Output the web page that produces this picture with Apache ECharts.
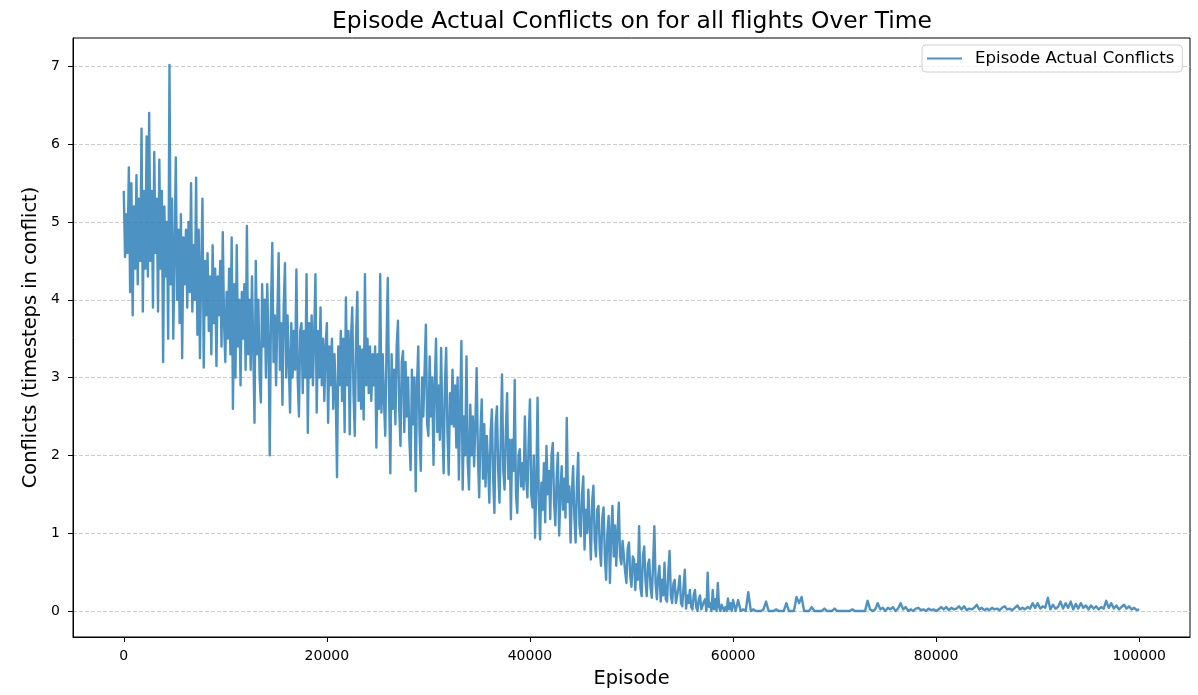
<!DOCTYPE html>
<html>
<head>
<meta charset="utf-8">
<title>Episode Actual Conflicts</title>
<script src="https://cdn.jsdelivr.net/npm/echarts@6/dist/echarts.min.js"></script>
<style>
  html, body { margin: 0; padding: 0; background: #fff; }
  #chart { width: 1198px; height: 695px; }
</style>
</head>
<body>
<div id="chart"></div>
<script>
// Conflicts per episode during training, sampled every EARLY_STEP episodes (0 .. 59875)
const EARLY_STEP = 125;
const conflictsEarly = [
  5.4, 4.55, 5.1, 4.6, 5.7, 4.1, 5.5, 3.8, 5.2, 4.4, 5.6, 4.2, 5.3, 4.5, 6.2, 3.85, 5.4, 4.4, 6.1, 4.3,
  6.4, 4.5, 5.4, 3.9, 5.9, 4.6, 5.3, 3.85, 5.8, 4.4, 5.4, 3.2, 5.2, 4.3, 5.0, 3.5, 7.02, 4.2, 5.3, 3.5,
  4.6, 5.83, 4.0, 4.9, 3.7, 5.1, 3.25, 4.8, 4.2, 4.9, 3.9, 5.0, 4.1, 5.5, 3.85, 4.7, 4.0, 5.57, 3.55, 4.9,
  3.25, 4.4, 5.3, 3.13, 4.5, 3.8, 4.6, 3.6, 4.3, 3.3, 4.7, 3.7, 4.4, 3.15, 4.3, 3.8, 4.5, 3.4, 4.87, 3.7,
  3.2, 4.1, 3.5, 4.4, 3.3, 4.8, 2.6, 4.2, 3.0, 4.7, 3.4, 4.0, 2.9, 4.1, 3.5, 4.2, 3.1, 4.95, 3.3, 4.0,
  3.1, 4.3, 3.4, 2.42, 4.5, 3.3, 4.0, 3.0, 2.68, 4.2, 3.4, 4.0, 3.0, 4.2, 3.5, 2.0, 3.9, 4.73, 3.2, 3.8,
  2.9, 3.8, 4.6, 3.1, 3.7, 2.65, 3.9, 4.47, 3.0, 3.8, 3.2, 2.55, 3.7, 3.0, 3.6, 3.1, 4.39, 3.0, 2.5, 3.6,
  3.7, 2.8, 3.6, 3.0, 4.33, 2.29, 3.7, 3.0, 3.8, 2.9, 3.5, 4.33, 2.55, 3.6, 3.0, 3.9, 2.9, 3.5, 2.7, 3.4,
  3.7, 2.42, 3.4, 2.9, 3.5, 2.6, 3.3, 2.8, 1.72, 3.4, 2.9, 3.6, 2.7, 3.5, 2.3, 4.03, 2.9, 3.6, 2.27, 3.5,
  3.9, 2.8, 2.25, 3.5, 4.1, 2.7, 3.4, 2.6, 3.36, 2.46, 4.33, 2.9, 3.5, 2.8, 3.4, 2.7, 3.3, 2.9, 3.4, 2.1,
  3.3, 2.6, 4.33, 2.55, 3.3, 2.7, 2.25, 3.4, 4.28, 2.8, 1.77, 3.3, 2.6, 3.1, 2.4, 3.4, 3.73, 2.6, 2.12, 3.2,
  3.34, 2.3, 3.2, 2.5, 3.0, 2.2, 1.81, 3.1, 2.4, 3.0, 1.54, 2.9, 3.4, 2.3, 1.8, 3.0, 2.5, 3.1, 3.68, 2.4,
  2.25, 3.27, 2.5, 3.0, 1.88, 2.9, 3.5, 2.3, 2.9, 2.2, 3.38, 2.4, 1.77, 2.9, 3.38, 2.3, 1.75, 2.8, 2.4, 3.1,
  2.37, 2.9, 2.1, 3.0, 1.69, 2.6, 3.47, 1.56, 2.5, 2.0, 3.27, 1.9, 1.56, 2.65, 2.0, 2.5, 1.86, 2.4, 3.12, 2.0,
  1.46, 2.3, 2.72, 1.7, 2.4, 1.6, 2.25, 1.9, 1.39, 2.3, 2.59, 1.7, 1.26, 2.4, 2.63, 1.8, 1.39, 2.2, 3.04, 1.8,
  1.56, 2.3, 2.8, 1.7, 2.2, 1.18, 2.2, 1.8, 2.97, 1.5, 1.26, 2.0, 2.08, 1.6, 1.9, 1.56, 2.5, 1.7, 1.46, 2.2,
  2.72, 1.5, 1.33, 2.0, 0.94, 1.6, 2.74, 1.4, 0.92, 1.65, 1.3, 1.9, 1.14, 2.12, 1.5, 1.8, 1.18, 2.0, 2.16, 1.4,
  1.1, 1.7, 2.03, 0.97, 1.5, 1.86, 1.3, 1.7, 1.2, 2.48, 1.4, 1.6, 0.88, 1.5, 1.86, 1.2, 0.88, 1.6, 2.03, 1.1,
  0.96, 1.5, 1.73, 0.79, 1.3, 1.0, 1.56, 1.1, 0.66, 1.4, 1.61, 0.9, 0.7, 1.3, 1.35, 0.8, 0.58, 1.2, 1.33, 0.7,
  0.40, 1.0, 1.22, 0.36, 1.0, 1.35, 0.7, 1.1, 0.58, 1.0, 1.39, 0.7, 0.6, 0.9, 0.88, 0.5, 0.36, 0.8, 0.88, 0.45,
  0.31, 0.7, 0.66, 0.27, 0.6, 0.4, 1.09, 0.3, 0.19, 0.7, 0.83, 0.4, 0.19, 0.6, 0.66, 0.3, 0.17, 0.6, 1.09, 0.35,
  0.15, 0.45, 0.58, 0.12, 0.4, 0.2, 0.62, 0.15, 0.12, 0.5, 0.77, 0.2, 0.1, 0.35, 0.40, 0.1, 0.08, 0.3, 0.45, 0.1,
  0.06, 0.3, 0.53, 0.03, 0.2, 0.1, 0.27, 0.05, 0.02, 0.2, 0.27, 0.05, 0.0, 0.15, 0.2, 0.02, 0.02, 0.12, 0.15, 0.0,
  0.49, 0.05, 0.1, 0.0, 0.27, 0.02, 0.15, 0.0, 0.36, 0.05, 0.0, 0.08, 0.1, 0.0, 0.05, 0.0, 0.16, 0.02, 0.1, 0.0
];

// Later training, sampled every LATE_STEP episodes (60000 .. 100000)
const LATE_START = 60000;
const LATE_STEP = 250;
const conflictsLate = [
  0.14, 0.0, 0.14, 0.0, 0.02, 0.0, 0.24, 0.0, 0.02, 0.0,
  0, 0, 0.02, 0.12, 0, 0, 0, 0.02, 0, 0,
  0, 0.1, 0, 0, 0, 0.18, 0.1, 0.18, 0, 0,
  0, 0.05, 0, 0, 0, 0, 0.03, 0, 0, 0,
  0.03, 0, 0, 0, 0, 0, 0, 0.02, 0, 0,
  0, 0, 0, 0.13, 0.02, 0, 0.02, 0.1, 0.02, 0.04,
  0, 0.04, 0.02, 0.05, 0, 0.03, 0.1, 0.02, 0.05, 0,
  0.02, 0, 0.03, 0.04, 0.01, 0.02, 0, 0.03, 0.01, 0.02,
  0, 0.02, 0.05, 0.02, 0.05, 0.01, 0.04, 0.02, 0.03, 0.06,
  0.02, 0.06, 0.01, 0.03, 0.02, 0.04, 0.08, 0.02, 0.04, 0.01,
  0.03, 0.01, 0.04, 0.02, 0.03, 0.01, 0.04, 0.06, 0.02, 0.03,
  0.01, 0.04, 0.07, 0.02, 0.04, 0.02, 0.05, 0.03, 0.1, 0.04,
  0.1, 0.03, 0.06, 0.04, 0.17, 0.02, 0.08, 0.03, 0.05, 0.12,
  0.03, 0.1, 0.04, 0.12, 0.02, 0.09, 0.03, 0.1, 0.04, 0.07,
  0.02, 0.07, 0.03, 0.06, 0.02, 0.05, 0.03, 0.13, 0.04, 0.1,
  0.03, 0.07, 0.02, 0.05, 0.08, 0.03, 0.06, 0.02, 0.04, 0.01, 0.02
];

// Tick positions on both axes
const xTicks = [0, 20000, 40000, 60000, 80000, 100000];
const yTicks = [0, 1, 2, 3, 4, 5, 6, 7];

const SERIES_NAME = 'Episode Actual Conflicts';
const FONT = 'DejaVu Sans';

const points = conflictsEarly.map((v, i) => [i * EARLY_STEP, v])
  .concat(conflictsLate.map((v, i) => [LATE_START + i * LATE_STEP, v]));

const chart = echarts.init(document.getElementById('chart'), null, { renderer: 'canvas' });

chart.setOption({
  animation: false,
  backgroundColor: '#ffffff',
  title: {
    text: 'Episode Actual Conflicts on for all flights Over Time',
    left: 627,
    top: 5,
    textAlign: 'center',
    textStyle: { fontFamily: FONT, fontSize: 23.4, fontWeight: 'normal', color: '#000' }
  },
  legend: {
    data: [{ name: SERIES_NAME, icon: 'rect' }],
    left: 922,
    top: 45,
    orient: 'horizontal',
    padding: [5, 8, 5, 5],
    itemWidth: 35,
    itemHeight: 2,
    itemStyle: { opacity: 0.8 },
    borderColor: '#d0d0d0',
    borderWidth: 1,
    borderRadius: 4,
    backgroundColor: 'rgba(255,255,255,0.8)',
    textStyle: { fontFamily: FONT, fontSize: 16.6, color: '#000', padding: [0, 0, 0, 8] }
  },
  grid: {
    left: 73,
    right: 8,
    top: 38,
    bottom: 58,
    show: true,
    borderColor: '#000',
    borderWidth: 1,
    backgroundColor: 'transparent'
  },
  xAxis: {
    type: 'value',
    min: -5000,
    max: 105000,
    name: 'Episode',
    nameLocation: 'middle',
    nameGap: 32,
    nameTextStyle: { fontFamily: FONT, fontSize: 19.4, color: '#000' },
    axisLine: { show: true, onZero: false, lineStyle: { color: '#000', width: 1 } },
    axisTick: { show: true, length: 5, customValues: xTicks, lineStyle: { color: '#000', width: 1 } },
    axisLabel: {
      customValues: xTicks, margin: 12, fontFamily: FONT, fontSize: 14, color: '#000',
      formatter: v => String(v)
    },
    splitLine: { show: false }
  },
  yAxis: {
    type: 'value',
    min: -0.335,
    max: 7.365,
    name: 'Conflicts (timesteps in conflict)',
    nameLocation: 'middle',
    nameGap: 30,
    nameRotate: 90,
    nameTextStyle: { fontFamily: FONT, fontSize: 19.4, color: '#000' },
    axisLine: { show: true, onZero: false, lineStyle: { color: '#000', width: 1 } },
    axisTick: { show: true, length: 5, customValues: yTicks, lineStyle: { color: '#000', width: 1 } },
    axisLabel: { customValues: yTicks, margin: 13, fontFamily: FONT, fontSize: 14, color: '#000' },
    splitLine: { show: true, lineStyle: { color: '#cccccc', width: 1, type: [4, 2] } }
  },
  series: [{
    name: SERIES_NAME,
    type: 'line',
    data: points,
    symbol: 'none',
    showSymbol: false,
    sampling: null,
    clip: true,
    lineStyle: { color: '#1f77b4', width: 2.4, opacity: 0.8, join: 'round' },
    itemStyle: { color: '#1f77b4', opacity: 0.8 },
    emphasis: { disabled: true }
  }]
});
</script>
</body>
</html>
